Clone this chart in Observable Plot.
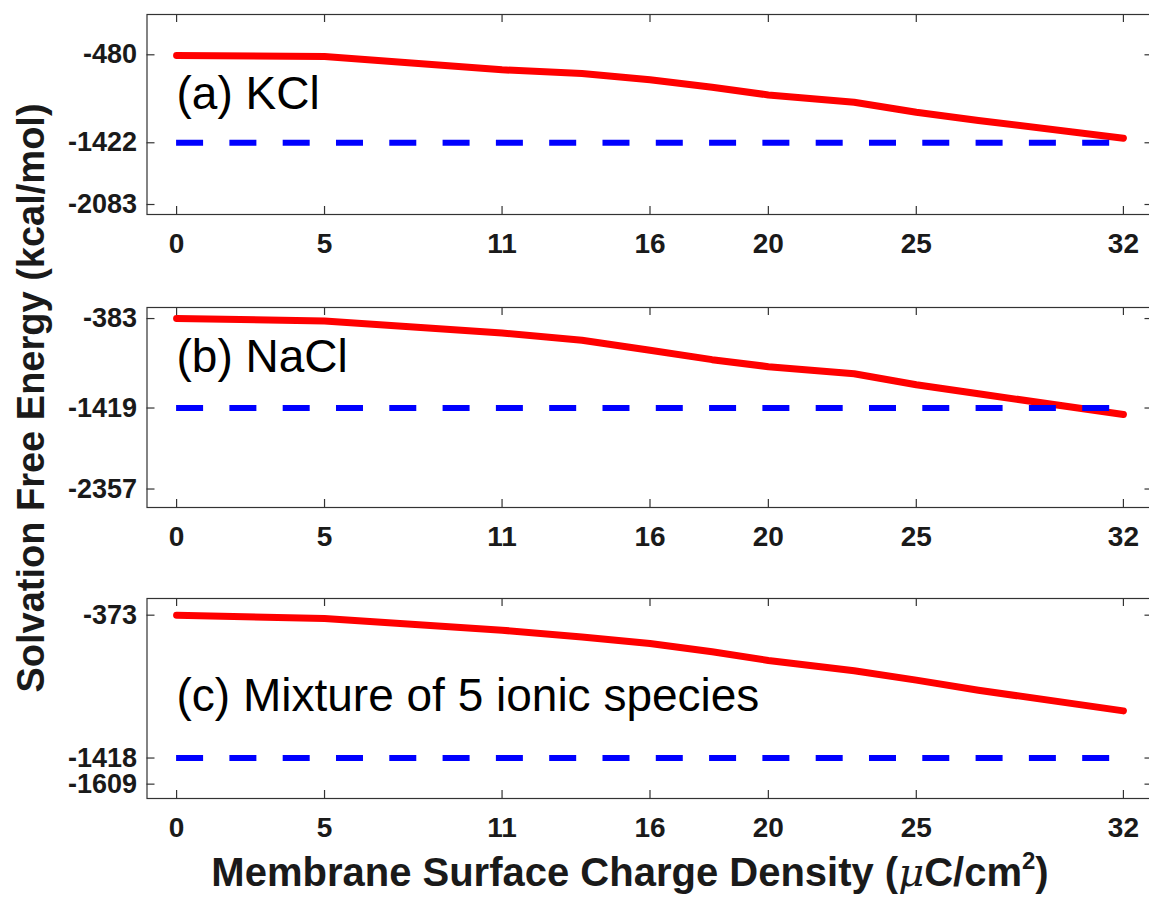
<!DOCTYPE html>
<html><head><meta charset="utf-8">
<script src="https://cdn.jsdelivr.net/npm/d3@7"></script>
<script src="https://cdn.jsdelivr.net/npm/@observablehq/plot@0.6"></script>
<style>
body{margin:0;background:#fff;}
#wrap{position:relative;width:1149px;height:899px;overflow:hidden;font-family:"Liberation Sans",Arial,sans-serif;color:#1a1a1a;}
.panel{position:absolute;left:0;}
#ytitle{position:absolute;left:31px;top:398px;transform:translate(-50%,-50%) rotate(-90deg);white-space:nowrap;font-weight:bold;font-size:38px;line-height:1;}
#xtitle{position:absolute;left:630px;top:852px;transform:translateX(-50%);white-space:nowrap;font-weight:bold;font-size:40px;line-height:1;}
#xtitle sup{font-size:0.6em;vertical-align:0.7em;line-height:0;}
</style>
</head><body>
<div id="wrap">
  <div id="ytitle">Solvation Free Energy (kcal/mol)</div>
  <div id="xtitle">Membrane Surface Charge Density (<i style="font-family:'DejaVu Serif',serif;font-weight:normal">μ</i>C/cm<sup>2</sup>)</div>
</div>
<script>
// ---- data ----
const sigma = [0, 5, 11, 13.7, 16, 18.1, 20, 22.9, 25, 27.1, 32];
const kclEnergy = [-487, -498, -641, -680, -748, -827, -910, -988, -1095, -1183, -1373];
const naclEnergy = [-383, -411, -550, -635, -751, -859, -940, -1022, -1149, -1254, -1494];
const mixEnergy = [-373, -397, -483, -532, -580, -641, -704, -780, -848, -922, -1073];
const referenceEnergy = [-1422, -1419, -1418];
const xTicks = [0, 5, 11, 16, 20, 25, 32];
const yTicksA = [-2083, -1422, -480];
const yTicksB = [-2357, -1419, -383];
const yTicksC = [-1609, -1418, -373];
const yDomainA = [-2190, -48.5];
const yDomainB = [-2571, -255];
const yDomainC = [-1714, -251];
const xDomain = [-1, 33];
const panelLabels = ["(a) KCl", "(b) NaCl", "(c) Mixture of 5 ionic species"];

const panels = [
  {energy: kclEnergy, ref: referenceEnergy[0], yTicks: yTicksA, yDomain: yDomainA, label: panelLabels[0], top: 0, labelDy: 94},
  {energy: naclEnergy, ref: referenceEnergy[1], yTicks: yTicksB, yDomain: yDomainB, label: panelLabels[1], top: 293.3, labelDy: 64.5},
  {energy: mixEnergy, ref: referenceEnergy[2], yTicks: yTicksC, yDomain: yDomainC, label: panelLabels[2], top: 584.3, labelDy: 112}
];

const wrap = document.getElementById("wrap");
const FONT = "Liberation Sans, Arial, sans-serif";
const frameH = 200, frameW = 1006;

for (const p of panels) {
  const data = sigma.map((s, i) => ({s, e: p.energy[i]}));
  const chart = Plot.plot({
    width: 1149, height: 264,
    marginTop: 14, marginBottom: 50, marginLeft: 146.5, marginRight: -3.5,
    style: {fontFamily: FONT, background: "transparent", overflow: "visible"},
    x: {domain: xDomain},
    y: {domain: p.yDomain},
    marks: [
      Plot.frame({stroke: "#333", strokeWidth: 1.2}),
      Plot.tickX(xTicks, {x: d => d, insetTop: frameH - 8, stroke: "#333", strokeWidth: 1.2}),
      Plot.tickX(xTicks, {x: d => d, insetBottom: frameH - 8, stroke: "#333", strokeWidth: 1.2}),
      Plot.tickY(p.yTicks, {y: d => d, insetRight: frameW - 8, stroke: "#333", strokeWidth: 1.2}),
      Plot.tickY(p.yTicks, {y: d => d, insetLeft: frameW - 8, stroke: "#333", strokeWidth: 1.2}),
      Plot.axisX(xTicks, {tickSize: 0, tickPadding: 19, fontSize: 28, fontWeight: "bold", fill: "#1a1a1a", label: null, tickFormat: d => String(d)}),
      Plot.axisY(p.yTicks, {tickSize: 0, tickPadding: 10, fontSize: 27, fontWeight: "bold", fill: "#1a1a1a", label: null, tickFormat: d => String(d)}),
      Plot.line(data, {x: "s", y: "e", stroke: "#ff0000", strokeWidth: 7}),
      Plot.ruleY([p.ref], {x1: sigma[0], x2: sigma[sigma.length - 1], stroke: "#0000ff", strokeWidth: 6, strokeDasharray: "27,26.3"}),
      Plot.text([p.label], {frameAnchor: "top-left", dx: 29.5, dy: p.labelDy, lineAnchor: "bottom", textAnchor: "start", fontSize: 46, fill: "#000", fontFamily: FONT})
    ]
  });
  chart.classList.add("panel");
  chart.style.top = p.top + "px";
  wrap.appendChild(chart);
}
</script>
</body></html>
